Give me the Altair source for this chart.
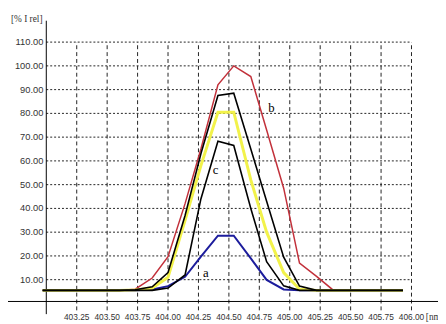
import altair as alt
import pandas as pd

# ---- data ----
wavelength = [402.97, 403.60, 403.73, 403.87, 404.00, 404.14, 404.27, 404.41, 404.54,
              404.68, 404.81, 404.95, 405.08, 405.22, 405.35, 405.49, 405.93]
curve_b_red = [5.5, 5.5, 6.0, 10.7, 19.7, 42.0, 65.0, 92.0, 100.0,
               95.5, 73.0, 48.5, 17.0, 11.4, 5.9, 5.5, 5.5]
curve_a_blue = [5.5, 5.5, 5.5, 5.9, 7.3, 11.2, 19.7, 28.5, 28.5,
                19.0, 9.9, 5.9, 5.5, 5.5, 5.5, 5.5, 5.5]
curve_yellow = [5.5, 5.5, 5.7, 6.5, 11.0, 35.0, 58.0, 80.5, 80.5,
                52.0, 30.0, 13.0, 6.0, 5.5, 5.5, 5.5, 5.5]
curve_black_outer = [5.5, 5.5, 5.8, 7.0, 13.0, 37.0, 63.0, 87.5, 88.5,
                     65.0, 43.0, 19.5, 7.3, 5.5, 5.5, 5.5, 5.5]
curve_c_black = [5.5, 5.5, 5.5, 5.5, 6.5, 12.0, 44.0, 68.3, 66.5,
                 40.0, 17.6, 7.4, 5.5, 5.5, 5.5, 5.5, 5.5]

x_ticks = [403.25, 403.50, 403.75, 404.00, 404.25, 404.50, 404.75,
           405.00, 405.25, 405.50, 405.75, 406.00]
x_tick_labels = ["403.25", "403.50", "403.75", "404.00", "404.25", "404.50", "404.75",
                 "405.00", "405.25", "405.50", "405.75", "406.00"]
y_ticks = [10, 20, 30, 40, 50, 60, 70, 80, 90, 100, 110]
y_tick_labels = ["10.00", "20.00", "30.00", "40.00", "50.00", "60.00", "70.00",
                 "80.00", "90.00", "100.00", "110.00"]

curve_labels = ["a", "b", "c"]
curve_label_x = [404.31, 404.85, 404.39]
curve_label_y = [12.6, 82.4, 56.2]

# ---- scales ----
W, H = 438, 316
x_min, x_max = 402.6855, 406.2177
y_min, y_max = -7.438, 123.14
xs = alt.Scale(domain=[x_min, x_max], nice=False, zero=False)
ys = alt.Scale(domain=[y_min, y_max], nice=False, zero=False)
X0, X1 = 403.0, 406.0

num_font = "Liberation Sans"


def X(field="x"):
    return alt.X(f"{field}:Q", scale=xs, axis=None)


def Y(field="y"):
    return alt.Y(f"{field}:Q", scale=ys, axis=None)


# grid
hgrid = alt.Chart(pd.DataFrame({"y": y_ticks, "x": [X0] * len(y_ticks), "x2": [X1] * len(y_ticks)})).mark_rule(
    color="#222222", strokeWidth=1, strokeDash=[2, 2]
).encode(x=X(), x2="x2:Q", y=Y())

vgrid = alt.Chart(pd.DataFrame({"x": x_ticks, "y": [-2.9] * len(x_ticks), "y2": [110] * len(x_ticks)})).mark_rule(
    color="#222222", strokeWidth=1, strokeDash=[4, 3]
).encode(x=X(), y=Y(), y2="y2:Q")

# axes lines
yaxis = alt.Chart(pd.DataFrame({"x": [X0], "y": [-4.5], "y2": [119.0]})).mark_rule(
    color="black", strokeWidth=1
).encode(x=X(), y=Y(), y2="y2:Q")
xaxis = alt.Chart(pd.DataFrame({"x": [x_min], "x2": [x_max], "y": [0.83]})).mark_rule(
    color="black", strokeWidth=1
).encode(x=X(), x2="x2:Q", y=Y())

# tick labels
xlab = alt.Chart(pd.DataFrame({"x": x_ticks, "t": x_tick_labels, "y": [-5.6] * len(x_ticks)})).mark_text(
    font=num_font, fontSize=8.5, color="#333333", align="center", baseline="middle"
).encode(x=X(), y=Y(), text="t:N")
ylab = alt.Chart(pd.DataFrame({"y": y_ticks, "t": y_tick_labels, "x": [402.976] * len(y_ticks)})).mark_text(
    font=num_font, fontSize=9.5, color="#333333", align="right", baseline="middle"
).encode(x=X(), y=Y(), text="t:N")

ytitle = alt.Chart(pd.DataFrame({"x": [402.71], "y": [119.8], "t": ["[% I rel]"]})).mark_text(
    font="Liberation Serif", fontSize=9.5, color="#333333", align="left", baseline="middle"
).encode(x=X(), y=Y(), text="t:N")
xtitle = alt.Chart(pd.DataFrame({"x": [406.118], "y": [-5.6], "t": ["[nm]"]})).mark_text(
    font="Liberation Serif", fontSize=9.5, color="#333333", align="left", baseline="middle"
).encode(x=X(), y=Y(), text="t:N")


def curve(vals, color, width):
    df = pd.DataFrame({"x": wavelength, "y": vals})
    return alt.Chart(df).mark_line(color=color, strokeWidth=width).encode(
        x=X(), y=Y(), order="x:Q"
    )


lines = [
    curve(curve_b_red, "#c2303a", 1.5),
    curve(curve_a_blue, "#1c1c9c", 2),
    curve(curve_yellow, "#f2f24a", 3),
    curve(curve_black_outer, "black", 1.6),
    curve(curve_c_black, "black", 1.6),
]

labels = alt.Chart(pd.DataFrame({"x": curve_label_x, "y": curve_label_y, "t": curve_labels})).mark_text(
    font="Liberation Serif", fontSize=13, color="black", align="center", baseline="middle"
).encode(x=X(), y=Y(), text="t:N")

chart = alt.layer(hgrid, vgrid, xaxis, yaxis, *lines, labels, xlab, ylab, ytitle, xtitle).properties(
    width=W, height=H, autosize=alt.AutoSizeParams(type="none"), padding=0, background="white"
).configure_view(stroke=None)

chart.save("out.html", embed_options={"renderer": "svg", "actions": False})
